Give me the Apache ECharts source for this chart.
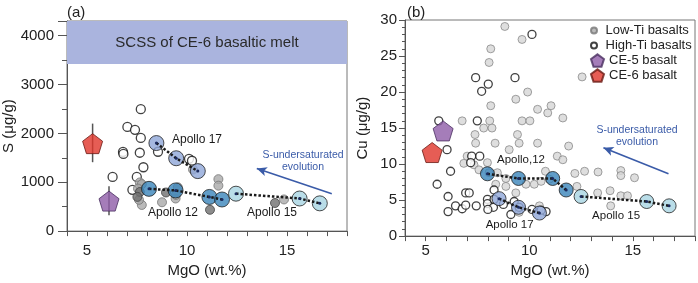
<!DOCTYPE html>
<html>
<head>
<meta charset="utf-8">
<script src="https://cdn.jsdelivr.net/npm/echarts@6/dist/echarts.min.js"></script>
<style>
  html, body { margin: 0; padding: 0; background: #fff; }
  #chart { width: 698px; height: 283px; }
</style>
</head>
<body>
<div id="chart"></div>
<script>
// ---- panel (a): MgO (wt.%) vs S (ug/g) ----
const highTiA = [[7.69, 2495], [7.02, 2133], [7.40, 2073], [7.69, 1907], [6.80, 1620], [6.82, 1580],
  [7.64, 1604], [8.55, 1624], [7.82, 1307], [6.28, 1109], [7.49, 1109], [7.27, 845],
  [10.1, 1480], [10.25, 1440]]
const lowTiA = [[7.64, 996], [7.74, 960], [7.55, 870], [7.74, 535], [8.75, 590], [9.43, 667],
  [9.54, 897], [9.45, 740], [11.57, 1063], [11.57, 930], [14.85, 648], [10.3, 1260], [7.6, 640]]
const darkLowTiA = [[7.64, 800], [7.52, 700], [8.95, 790], [11.15, 436], [14.4, 575]]
const apollo12A = [[8.1, 865], [9.43, 832], [11.12, 699], [11.75, 647]]
const apollo15A = [[12.45, 766], [15.63, 667], [16.64, 568]]
const apollo17A = [[8.47, 1802], [9.46, 1491], [10.54, 1228]]
const ce5A = [[6.1, 614]]
const ce6A = [[5.28, 1790]]
const errorBarsA = [[6.1, 323, 917], [5.28, 1410, 2200]]   // [MgO, low, high]
const scssBandA = [3420, 4300]
const arrowA = [[17.24, 766], [13.49, 1281]]
const notesA = [['Apollo 17', 10.5, 1861], ['Apollo 12', 9.3, 376], ['Apollo 15', 14.25, 376]]
const evolutionNoteA = [15.8, 1430]

// ---- panel (b): MgO (wt.%) vs Cu (ug/g) ----
const lowTiB = [[8.82, 29.1], [9.65, 27.3], [8.14, 26.0], [8.06, 24.1], [9.35, 19.0], [9.92, 20.0],
  [8.14, 18.1], [6.76, 16.0], [8.09, 16.0], [9.65, 16.0], [10.03, 16.0], [10.4, 17.6], [10.89, 17.1],
  [11.05, 18.1], [11.62, 16.4], [7.8, 15.0], [8.2, 15.0], [7.38, 14.1], [9.43, 14.1], [12.55, 22.1],
  [7.41, 12.9], [8.35, 12.9], [9.03, 12.0], [9.51, 12.9], [10.4, 12.9], [11.9, 12.5], [11.35, 11.1],
  [11.62, 10.6], [7.0, 11.1], [6.84, 10.1], [7.33, 9.9], [7.98, 10.2], [7.57, 9.2], [8.06, 8.8],
  [8.46, 8.8], [8.87, 8.0], [8.38, 7.2], [8.87, 6.9], [9.35, 6.0], [9.84, 7.2], [10.24, 7.2],
  [10.57, 7.6], [10.97, 7.9], [10.78, 9.0], [12.2, 8.7], [12.67, 9.0], [13.32, 8.9], [12.3, 6.9],
  [13.3, 6.0], [13.9, 6.3], [14.42, 5.6], [14.74, 5.6], [13.93, 4.2], [14.42, 9.1], [14.42, 8.4],
  [15.08, 8.1], [10.49, 4.2], [9.51, 3.3]]
const highTiB = [[10.13, 28.0], [7.41, 22.0], [9.31, 22.0], [8.02, 21.1], [7.7, 20.1], [5.63, 16.0],
  [7.49, 16.0], [6.03, 12.0], [7.22, 11.1], [7.61, 11.1], [7.17, 10.2], [6.2, 9.0], [5.55, 7.2],
  [6.93, 6.0], [7.1, 6.0], [6.08, 5.5], [6.44, 4.2], [6.76, 3.8], [6.93, 4.3], [6.08, 3.4],
  [7.44, 4.2], [7.98, 5.1], [7.98, 4.5], [8.3, 5.1], [8.27, 4.0], [8.3, 6.4], [8.75, 4.4],
  [9.27, 4.8], [9.11, 3.0], [9.51, 4.0], [10.13, 3.7], [10.81, 3.4], [10.57, 3.6], [8.0, 3.7]]
const apollo12B = [[7.98, 8.65], [9.48, 8.0], [11.13, 8.0], [11.78, 6.4]]
const apollo15B = [[12.5, 5.5], [15.67, 4.8], [16.75, 4.2]]
const apollo17B = [[8.54, 5.2], [9.48, 4.0], [10.49, 3.2]]
const ce5B = [[5.84, 14.6]]
const ce6B = [[5.31, 11.6]]
const arrowB = [[16.72, 8.67], [13.58, 12.27]]
const notesB = [['Apollo,12', 9.6, 10.65], ['Apollo 17', 9.05, 1.52], ['Apollo 15', 14.19, 2.77]]
const evolutionNoteB = [15.2, 13.9]

const FONT = '"Liberation Sans", Arial, sans-serif'
const PENTAGON = 'path://M0,-10 L9.51,-3.09 L5.88,8.09 L-5.88,8.09 L-9.51,-3.09 Z'
const ARROW_BLUE = '#3a5ba8'

const chart = echarts.init(document.getElementById('chart'), null, { renderer: 'canvas' })

function scatter(name, data, panel, size, itemStyle, z, symbol) {
  return {
    name,
    type: 'scatter',
    xAxisIndex: panel,
    yAxisIndex: panel,
    data,
    symbol: symbol || 'circle',
    symbolSize: size,
    itemStyle,
    z,
    silent: true
  }
}

function trendLine(data, panel) {
  return {
    type: 'line',
    xAxisIndex: panel,
    yAxisIndex: panel,
    data,
    symbol: 'circle',
    symbolSize: 3,
    itemStyle: { color: '#1b2a5e' },
    lineStyle: { color: '#1a1a1a', width: 2.5, type: [2.5, 2] },
    z: 6,
    silent: true
  }
}

function annotations(panel, notes, arrow, evolution) {
  return {
    type: 'scatter',
    xAxisIndex: panel,
    yAxisIndex: panel,
    data: [],
    silent: true,
    z: 8,
    markPoint: {
      symbol: 'circle',
      symbolSize: 0,
      silent: true,
      data: notes.map(([text, x, y]) => ({
        name: text,
        coord: [x, y],
        label: { fontSize: panel === 0 ? 12 : 11.5, color: '#1a1a1a' }
      })).concat([{
        name: 'S-undersaturated\nevolution',
        coord: evolution,
        label: { fontSize: 10.5, color: ARROW_BLUE, lineHeight: 12 }
      }]),
      label: { show: true, position: 'inside', formatter: '{b}', fontFamily: FONT, align: 'center' }
    },
    markLine: {
      silent: true,
      symbol: ['none', 'arrow'],
      symbolSize: [7, 10],
      label: { show: false },
      lineStyle: { color: ARROW_BLUE, width: 1.6, type: 'solid' },
      data: [[{ coord: arrow[0] }, { coord: arrow[1] }]]
    }
  }
}

const lowTiStyleB = { color: '#d6d6d6', borderColor: '#8a8a8a', borderWidth: 1 }
const highTiStyle = { color: '#ffffff', borderColor: '#111', borderWidth: 1.3 }
const ap12Style = { color: '#3a85ba', borderColor: '#222', borderWidth: 1 }
const ap15Style = { color: '#a8d4e2', borderColor: '#222', borderWidth: 1 }
const ap17Style = { color: '#8fa6d8', borderColor: '#222', borderWidth: 1 }
const ce5Style = { color: '#8e5ca8', borderColor: '#4a3060', borderWidth: 1 }
const ce6Style = { color: '#e0352b', borderColor: '#6a1a14', borderWidth: 1 }

function xAxis(grid, labelMargin, nameGap) {
  return {
    type: 'value',
    gridIndex: grid,
    min: 4,
    max: 18,
    interval: 1,
    name: 'MgO (wt.%)',
    nameLocation: 'middle',
    nameGap,
    nameTextStyle: { fontSize: 15, color: '#222', fontFamily: FONT },
    axisLine: { show: true, lineStyle: { color: '#555' } },
    axisTick: { show: true, length: 5, lineStyle: { color: '#555' } },
    axisLabel: {
      fontSize: 15, color: '#222', fontFamily: FONT, margin: labelMargin,
      formatter: v => (v % 5 === 0 ? String(v) : '')
    },
    splitLine: { show: false }
  }
}

const option = {
  animation: false,
  backgroundColor: '#fff',
  title: [
    { text: '(a)', left: 62, top: 0, textStyle: { fontSize: 15, fontWeight: 'normal', color: '#222', fontFamily: FONT } },
    { text: '(b)', left: 402, top: 0, textStyle: { fontSize: 15, fontWeight: 'normal', color: '#222', fontFamily: FONT } }
  ],
  legend: [
    {
      data: ['Low-Ti basalts', 'High-Ti basalts'],
      orient: 'vertical', left: 590, top: 23, padding: 0, itemGap: 0,
      itemWidth: 13, itemHeight: 6,
      textStyle: { fontSize: 13, color: '#222', fontFamily: FONT, lineHeight: 15 },
      selectedMode: false
    },
    {
      data: ['CE-5 basalt', 'CE-6 basalt'],
      orient: 'vertical', left: 590, top: 53, padding: 0, itemGap: 0,
      itemWidth: 13, itemHeight: 13,
      textStyle: { fontSize: 13, color: '#222', fontFamily: FONT, lineHeight: 15 },
      selectedMode: false
    }
  ],
  grid: [
    { left: 67, top: 21, width: 280, height: 216, show: true, borderColor: '#777', borderWidth: 1, backgroundColor: 'transparent' },
    { left: 405, top: 20, width: 290, height: 217, show: true, borderColor: '#777', borderWidth: 1, backgroundColor: 'transparent' }
  ],
  xAxis: [xAxis(0, 12, 31), xAxis(1, 7, 24)],
  yAxis: [
    {
      type: 'value', gridIndex: 0, min: 0, max: scssBandA[1], interval: 1000,
      name: 'S (μg/g)', nameLocation: 'middle', nameGap: 50,
      nameTextStyle: { fontSize: 15, color: '#222', fontFamily: FONT },
      axisLine: { show: true, lineStyle: { color: '#555' } },
      axisTick: { show: true, length: 9, lineStyle: { color: '#555' } },
      minorTick: { show: true, splitNumber: 2, length: 5, lineStyle: { color: '#555' } },
      axisLabel: {
        fontSize: 15, color: '#222', fontFamily: FONT, margin: 13, showMaxLabel: false,
        formatter: v => (v % 1000 === 0 ? String(v) : '')
      },
      splitLine: { show: false }
    },
    {
      type: 'value', gridIndex: 1, min: 0, max: 30, interval: 5,
      name: 'Cu (μg/g)', nameLocation: 'middle', nameGap: 35,
      nameTextStyle: { fontSize: 15, color: '#222', fontFamily: FONT },
      axisLine: { show: true, lineStyle: { color: '#555' } },
      axisTick: { show: true, length: 6, lineStyle: { color: '#555' } },
      minorTick: { show: true, splitNumber: 5, length: 3, lineStyle: { color: '#555' } },
      axisLabel: { fontSize: 15, color: '#222', fontFamily: FONT, margin: 8, formatter: v => String(v) },
      splitLine: { show: false }
    }
  ],
  series: [
    // panel (a)
    {
      type: 'scatter', xAxisIndex: 0, yAxisIndex: 0, data: [], silent: true, z: 1,
      markArea: {
        silent: true,
        itemStyle: { color: '#aab4de' },
        label: { show: true, position: 'inside', fontSize: 15, color: '#2a2a2a', fontFamily: FONT },
        data: [[{ name: 'SCSS of CE-6 basaltic melt', yAxis: scssBandA[0] }, { yAxis: scssBandA[1] }]]
      }
    },
    scatter('High-Ti basalts', highTiA, 0, 9, highTiStyle, 2),
    scatter('Low-Ti basalts', lowTiA, 0, 9, { color: '#a9a9a9', borderColor: '#777', borderWidth: 1 }, 3),
    scatter('Low-Ti dark', darkLowTiA, 0, 9, { color: '#6f6f6f', borderColor: '#444', borderWidth: 1 }, 3),
    scatter('Apollo 12', apollo12A, 0, 15, ap12Style, 4),
    scatter('Apollo 15', apollo15A, 0, 15, ap15Style, 4),
    scatter('Apollo 17', apollo17A, 0, 15, ap17Style, 4),
    trendLine(apollo12A, 0),
    trendLine(apollo15A, 0),
    trendLine(apollo17A, 0),
    {
      type: 'custom', xAxisIndex: 0, yAxisIndex: 0, data: errorBarsA, z: 7, silent: true,
      renderItem(params, api) {
        const x = api.value(0)
        const p1 = api.coord([x, api.value(1)])
        const p2 = api.coord([x, api.value(2)])
        return {
          type: 'line',
          shape: { x1: p1[0], y1: p1[1], x2: p2[0], y2: p2[1] },
          style: { stroke: '#555', lineWidth: 1.5 }
        }
      }
    },
    scatter('CE-5 basalt', ce5A, 0, 20, ce5Style, 9, PENTAGON),
    scatter('CE-6 basalt', ce6A, 0, 20, ce6Style, 9, PENTAGON),
    annotations(0, notesA, arrowA, evolutionNoteA),

    // panel (b)
    scatter('Low-Ti basalts', lowTiB, 1, 8, lowTiStyleB, 2),
    scatter('High-Ti basalts', highTiB, 1, 8, highTiStyle, 3),
    scatter('Apollo 12', apollo12B, 1, 14, ap12Style, 4),
    scatter('Apollo 15', apollo15B, 1, 14, ap15Style, 4),
    scatter('Apollo 17', apollo17B, 1, 14, ap17Style, 4),
    trendLine(apollo12B, 1),
    trendLine(apollo15B, 1),
    trendLine(apollo17B, 1),
    scatter('CE-5 basalt', ce5B, 1, 20, ce5Style, 9, PENTAGON),
    scatter('CE-6 basalt', ce6B, 1, 20, ce6Style, 9, PENTAGON),
    annotations(1, notesB, arrowB, evolutionNoteB)
  ]
}

chart.setOption(option)
</script>
</body>
</html>
